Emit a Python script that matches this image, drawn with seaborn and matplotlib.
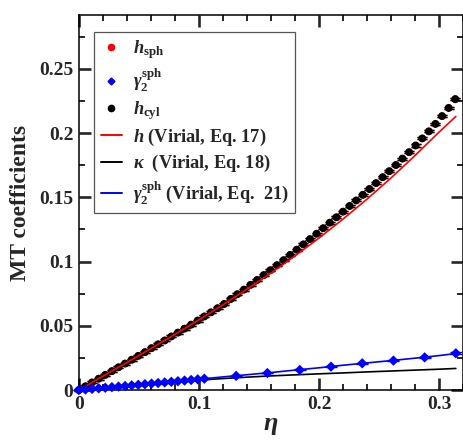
import matplotlib
matplotlib.use("Agg")
import matplotlib.pyplot as plt
from matplotlib.lines import Line2D
from matplotlib.ticker import MultipleLocator, FixedLocator
import seaborn as sns
import pandas as pd

# Packing fractions of the simulation points
eta_pts = [0.0, 0.0055, 0.011, 0.0165, 0.022, 0.0275, 0.033, 0.0385, 0.044, 0.0495,
           0.055, 0.0605, 0.066, 0.0715, 0.077, 0.0825, 0.088, 0.0935, 0.099, 0.1045,
           0.11, 0.1155, 0.121, 0.1265, 0.132, 0.1375, 0.143, 0.1485, 0.154, 0.1595,
           0.165, 0.1705, 0.176, 0.1815, 0.187, 0.1925, 0.198, 0.2035, 0.209, 0.2145,
           0.22, 0.2255, 0.231, 0.2365, 0.242, 0.2475, 0.253, 0.2585, 0.264, 0.2695,
           0.275, 0.2805, 0.286, 0.2915, 0.297, 0.3025, 0.308, 0.3135]

# MT coefficient h from the cylinder geometry
h_cyl = [0.0000, 0.0029, 0.0059, 0.0088, 0.0118, 0.0147, 0.0177, 0.0206, 0.0236, 0.0266,
         0.0295, 0.0326, 0.0356, 0.0386, 0.0417, 0.0447, 0.0478, 0.0509, 0.0541, 0.0573,
         0.0605, 0.0637, 0.0670, 0.0709, 0.0746, 0.0782, 0.0819, 0.0857, 0.0895, 0.0933,
         0.0972, 0.1011, 0.1052, 0.1093, 0.1134, 0.1175, 0.1217, 0.1260, 0.1303, 0.1345,
         0.1389, 0.1433, 0.1476, 0.1520, 0.1565, 0.1611, 0.1657, 0.1704, 0.1752, 0.1802,
         0.1852, 0.1904, 0.1959, 0.2014, 0.2072, 0.2133, 0.2196, 0.2264]

# MT coefficient h from the sphere geometry (coincides with the cylinder result)
h_sph = [0.0000, 0.0029, 0.0059, 0.0088, 0.0118, 0.0147, 0.0177, 0.0206, 0.0236, 0.0266,
         0.0295, 0.0326, 0.0356, 0.0386, 0.0417, 0.0447, 0.0478, 0.0509, 0.0541, 0.0573,
         0.0605, 0.0637, 0.0670, 0.0709, 0.0746, 0.0782, 0.0819, 0.0857, 0.0895, 0.0933,
         0.0972, 0.1011, 0.1052, 0.1093, 0.1134, 0.1175, 0.1217, 0.1260, 0.1303, 0.1345,
         0.1389, 0.1433, 0.1476, 0.1520, 0.1565, 0.1611, 0.1657, 0.1704, 0.1752, 0.1802,
         0.1852, 0.1904, 0.1959, 0.2014, 0.2072, 0.2133, 0.2198, 0.2268]

# gamma_2 (sphere) simulation points
eta_g2 = [0.0, 0.0055, 0.011, 0.0165, 0.022, 0.0275, 0.033, 0.0385, 0.044, 0.0495,
          0.055, 0.0605, 0.066, 0.0715, 0.077, 0.0825, 0.088, 0.0935, 0.099, 0.1045,
          0.131, 0.157, 0.184, 0.210, 0.236, 0.262, 0.288, 0.314]
g2_sph = [0.0, 0.00044, 0.00089, 0.00133, 0.00178, 0.00223, 0.00268, 0.00314, 0.0036, 0.00406,
          0.00452, 0.00499, 0.00545, 0.00592, 0.0064, 0.00687, 0.00735, 0.00783, 0.00831, 0.0088,
          0.0110, 0.0132, 0.0156, 0.0182, 0.0208, 0.0229, 0.0254, 0.0286]
g2_err = [0.0002] * 20 + [0.0003, 0.0003, 0.0004, 0.0004, 0.0005, 0.0005, 0.0006, 0.0008]

# Virial predictions
eta_vir = [0.0, 0.02, 0.04, 0.06, 0.08, 0.10, 0.12, 0.14, 0.16, 0.18,
           0.20, 0.22, 0.24, 0.26, 0.28, 0.30, 0.314]
h_vir = [0.0, 0.0107, 0.0214, 0.0323, 0.0433, 0.0547, 0.0663, 0.0785, 0.0911, 0.1044,
         0.1183, 0.1331, 0.1486, 0.1651, 0.1826, 0.2008, 0.2130]
kappa_vir = [0.0, 0.0018, 0.0035, 0.0050, 0.0065, 0.0078, 0.0089, 0.0100, 0.0110, 0.0118,
             0.0126, 0.0133, 0.0141, 0.0148, 0.0155, 0.0162, 0.0168]
g2_vir = [0.0, 0.0016, 0.0033, 0.0049, 0.0067, 0.0084, 0.0102, 0.0119, 0.0136, 0.0155,
          0.0173, 0.0193, 0.0211, 0.0229, 0.0248, 0.0268, 0.0284]

x_ticks = [0, 0.1, 0.2, 0.3]
x_ticklabels = ["0", "0.1", "0.2", "0.3"]
y_ticks = [0, 0.05, 0.1, 0.15, 0.2, 0.25]
y_ticklabels = ["0", "0.05", "0.1", "0.15", "0.2", "0.25"]

sns.set_theme(style="ticks")
plt.rcParams.update({
    "font.family": ["Liberation Serif", "DejaVu Serif"],
    "font.weight": "bold",
    "mathtext.fontset": "custom",
    "mathtext.rm": "Liberation Serif:bold",
    "mathtext.bf": "Liberation Serif:bold",
    "mathtext.it": "Liberation Serif:italic:bold",
    "mathtext.default": "it",
})

fig = plt.figure(figsize=(4.64, 4.40), dpi=100)
ax = fig.add_axes([0.170, 0.1136, 0.828, 0.8523])

df_vir = pd.DataFrame({"eta": eta_vir, "h": h_vir, "kappa": kappa_vir, "g2": g2_vir})
df_pts = pd.DataFrame({"eta": eta_pts, "h_cyl": h_cyl, "h_sph": h_sph})
df_g2 = pd.DataFrame({"eta": eta_g2, "g2": g2_sph, "err": g2_err})

# virial curves
sns.lineplot(data=df_vir, x="eta", y="h", color="#ff0000", lw=1.2, ax=ax, zorder=4)
sns.lineplot(data=df_vir, x="eta", y="kappa", color="black", lw=1.2, ax=ax, zorder=3)
sns.lineplot(data=df_vir, x="eta", y="g2", color="#0000ff", lw=1.2, ax=ax, zorder=3)

# sphere points (red), mostly hidden under the cylinder points
ax.errorbar(df_pts["eta"], df_pts["h_sph"], yerr=0.0008, fmt="none",
            ecolor="#ff0000", elinewidth=1, capsize=3.5, capthick=1, zorder=2, clip_on=False)
sns.scatterplot(data=df_pts, x="eta", y="h_sph", color="#ff0000", s=28,
                edgecolor="none", ax=ax, zorder=2, clip_on=False)

# cylinder points (black)
ax.errorbar(df_pts["eta"], df_pts["h_cyl"], yerr=0.0008, fmt="none",
            ecolor="black", elinewidth=1, capsize=3.5, capthick=1, zorder=3, clip_on=False)
sns.scatterplot(data=df_pts, x="eta", y="h_cyl", color="black", s=32,
                edgecolor="none", ax=ax, zorder=3, clip_on=False)

# gamma_2 points (blue diamonds)
ax.errorbar(df_g2["eta"], df_g2["g2"], yerr=df_g2["err"], fmt="none",
            ecolor="#0000ff", elinewidth=1, capsize=4.5, capthick=1, zorder=5, clip_on=False)
sns.scatterplot(data=df_g2, x="eta", y="g2", color="#0000ff", marker="D", s=28,
                edgecolor="none", ax=ax, zorder=5, clip_on=False)

ax.set_xlim(0, 0.32)
ax.set_ylim(0, 0.292)

ax.xaxis.set_major_locator(FixedLocator(x_ticks))
ax.xaxis.set_minor_locator(MultipleLocator(0.02))
ax.yaxis.set_major_locator(FixedLocator(y_ticks))
ax.yaxis.set_minor_locator(MultipleLocator(0.025))
ax.set_xticklabels(x_ticklabels)
ax.set_yticklabels(y_ticklabels)

ax.tick_params(which="both", direction="in", top=True, right=True,
               labelsize=14, pad=4)
ax.tick_params(which="major", length=8.5, width=1.9)
ax.tick_params(which="minor", length=4.3, width=1.4)
for lab in ax.get_xticklabels() + ax.get_yticklabels():
    lab.set_fontweight("bold")
for sp in ax.spines.values():
    sp.set_linewidth(1.1)
    sp.set_color("black")

ax.set_xlabel(r"$\eta$", fontsize=19, labelpad=2)
ax.set_ylabel("MT coefficients", fontsize=17, fontweight="bold", labelpad=6)

handles = [
    Line2D([], [], ls="none", marker="o", color="#ff0000", markersize=4.5),
    Line2D([], [], ls="none", marker="D", color="#0000ff", markersize=3.5),
    Line2D([], [], ls="none", marker="o", color="black", markersize=4.5),
    Line2D([], [], color="#ff0000", lw=1.4),
    Line2D([], [], color="black", lw=1.4),
    Line2D([], [], color="#0000ff", lw=1.4),
]
labels = [
    r"$h_{\mathrm{sph}}$",
    r"$\gamma_2^{\mathrm{sph}}$",
    r"$h_{\mathrm{cyl}}$",
    r"$h$ (Virial, Eq. 17)",
    r"$\kappa$  (Virial, Eq. 18)",
    r"$\gamma_2^{\mathrm{sph}}$ (Virial, Eq.  21)",
]
leg = ax.legend(handles, labels, loc="upper left", bbox_to_anchor=(0.04, 0.955),
                fontsize=13.2, frameon=True, fancybox=False, framealpha=1,
                edgecolor="#555555", handlelength=1.15, handletextpad=0.6,
                borderpad=0.35, labelspacing=0.28, borderaxespad=0)
leg.get_frame().set_linewidth(0.9)
for t in leg.get_texts():
    t.set_fontweight("bold")

fig.savefig("out.png", dpi=100)
